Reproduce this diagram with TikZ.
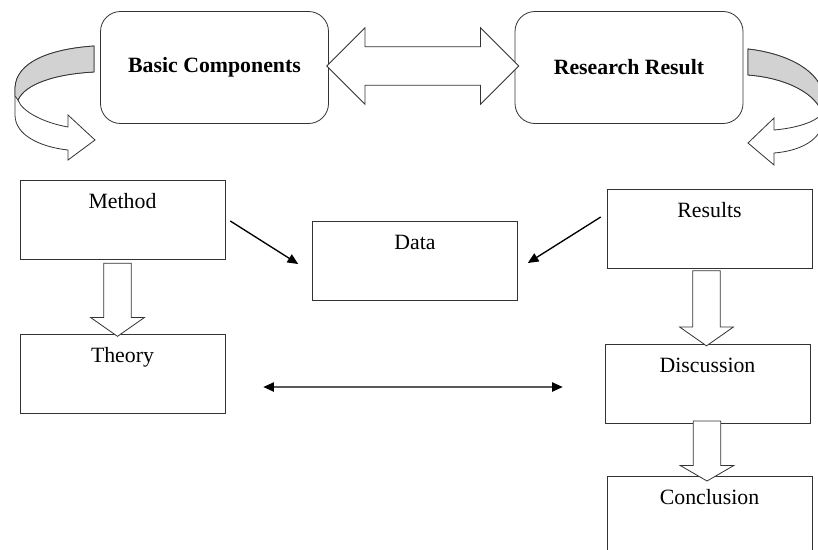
\documentclass[tikz,border=0pt]{standalone}
\usepackage{fontspec}
\setmainfont{Liberation Serif}
\usetikzlibrary{shapes.arrows,arrows.meta,calc}

\begin{document}
\begin{tikzpicture}[scale=0.75,transform shape,x=1pt,y=-1pt]

			\tikzset{
				every node/.style={
					font=\fontsize{21.8}{26}\selectfont
				},
				block/.style={
					draw=black!80,
					rectangle,
					line width=0.6pt,
					minimum width=205pt,
					minimum height=79pt,
					inner sep=0pt
				},
				topbox/.style={
					draw=black!80,
					rectangle,
					rounded corners=15pt,
					line width=0.6pt,
					minimum width=228pt,
					minimum height=112pt,
					font=\fontsize{21.8}{26}\selectfont\bfseries
				},
				toptext/.style={
					anchor=base,
					yshift=-29pt,
					inner sep=0pt
				},
				downarrow/.style={
					draw=black!80,
					fill=white,
					line width=0.6pt,
					single arrow,
					shape border rotate=270,
					inner xsep=13.5pt,
					inner ysep=0pt,
					single arrow head extend=13pt,
					single arrow tip angle=110,
					minimum height=73pt
				},
				bothways/.style={
					draw=black!80,
					fill=white,
					line width=0.6pt,
					double arrow,
					inner xsep=0pt,
					inner ysep=19pt,
					double arrow head extend=19pt,
					minimum height=192pt
				},
				link/.style={
					draw=black,
					line width=1pt,
					-{Triangle[length=8pt,width=7pt]}
				},
				linkboth/.style={
					draw=black,
					line width=1pt,
					{Triangle[length=8pt,width=7pt]}-{Triangle[length=8pt,width=7pt]}
				},
				curved/.style={
					draw=black!80,
					line width=0.6pt,
					fill=white
				},
				band/.style={
					draw=black!80,
					line width=0.6pt,
					fill=gray!35
				}
			}

			\useasboundingbox (0,0) rectangle (818,550);
			\clip (0,0) rectangle (818,550);

			% TOP BOXES
			\node[topbox] (basic) at (214.5,67.5) {Basic Components};
			\node[topbox] (research) at (629,67.5) {Research Result};

			% LEFT COLUMN
			\node[block, label={[toptext,name=methodtxt]north:Method}] (method) at (122.5,219.5) {};
			\node[block, label={[toptext,name=theorytxt]north:Theory}] (theory) at (122.5,373.5) {};

			% MIDDLE
			\node[block, label={[toptext,name=datatxt]north:Data}] (data) at (415,260.5) {};

			% RIGHT COLUMN
			\node[block, label={[toptext,name=resultstxt]north:Results}] (results) at (709.5,228.5) {};
			\node[block, label={[toptext,name=discussiontxt]north:Discussion}] (discussion) at (707.5,383.5) {};
			\node[block, label={[toptext,name=conclusiontxt]north:Conclusion}] (conclusion) at (709.5,515.5) {};

			% BLOCK ARROWS
			\node[bothways] (swap) at ($(basic.east)!0.5!(research.west)+(1,-1.5)$) {};
			\node[downarrow] (methodtheory) at ($(method.south)!0.5!(theory.north)+(-5,-1.5)$) {};
			\node[downarrow, minimum height=75pt] (resultsdisc) at ($(results.south)!0.5!(discussion.north)+(-2,-2.5)$) {};
			\node[downarrow, minimum height=60pt, single arrow tip angle=120] (discconcl) at ($(discussion.south)!0.5!(conclusion.north)+(-1.5,-2.5)$) {};

			% LINE ARROWS
			\draw[link] ($(method.east)+(5,1.5)$) -- ($(data.west)+(-14,3.5)$);
			\draw[link] ($(results.west)+(-6,-11.5)$) -- ($(data.east)+(10,2.5)$);
			\draw[linkboth] ($(theory.east)+(38,13.5)$) -- ($(discussion.west)+(-42,3.5)$);

			% CURVED ARROW LEFT
			\draw[curved] (94,46) .. controls (50,49) and (16,62) .. (15,88)
				-- (15,115) .. controls (15,135) and (40,147) .. (68,150)
				-- (68,160) -- (95,140) -- (68,115) -- (68,127)
				.. controls (45,123) and (22,112) .. (18,100)
				.. controls (25,84) and (55,74) .. (94,72) -- cycle;
			\draw[band] (94,46) .. controls (50,49) and (16,62) .. (15,88)
				-- (15,96) -- (18,100)
				.. controls (25,84) and (55,74) .. (94,72) -- cycle;

			% CURVED ARROW RIGHT
			\draw[curved] (748,49) .. controls (790,54) and (820,72) .. (823,95)
				-- (823,120) .. controls (822,140) and (800,151) .. (774,153)
				-- (774,165) -- (748,143) -- (774,118) -- (774,130)
				.. controls (797,128) and (815,122) .. (822,114)
				.. controls (818,95) and (788,78) .. (748,75) -- cycle;
			\draw[band] (748,49) .. controls (790,54) and (820,72) .. (823,95)
				-- (823,110) -- (822,114)
				.. controls (818,95) and (788,78) .. (748,75) -- cycle;

		\end{tikzpicture}
\end{document}
